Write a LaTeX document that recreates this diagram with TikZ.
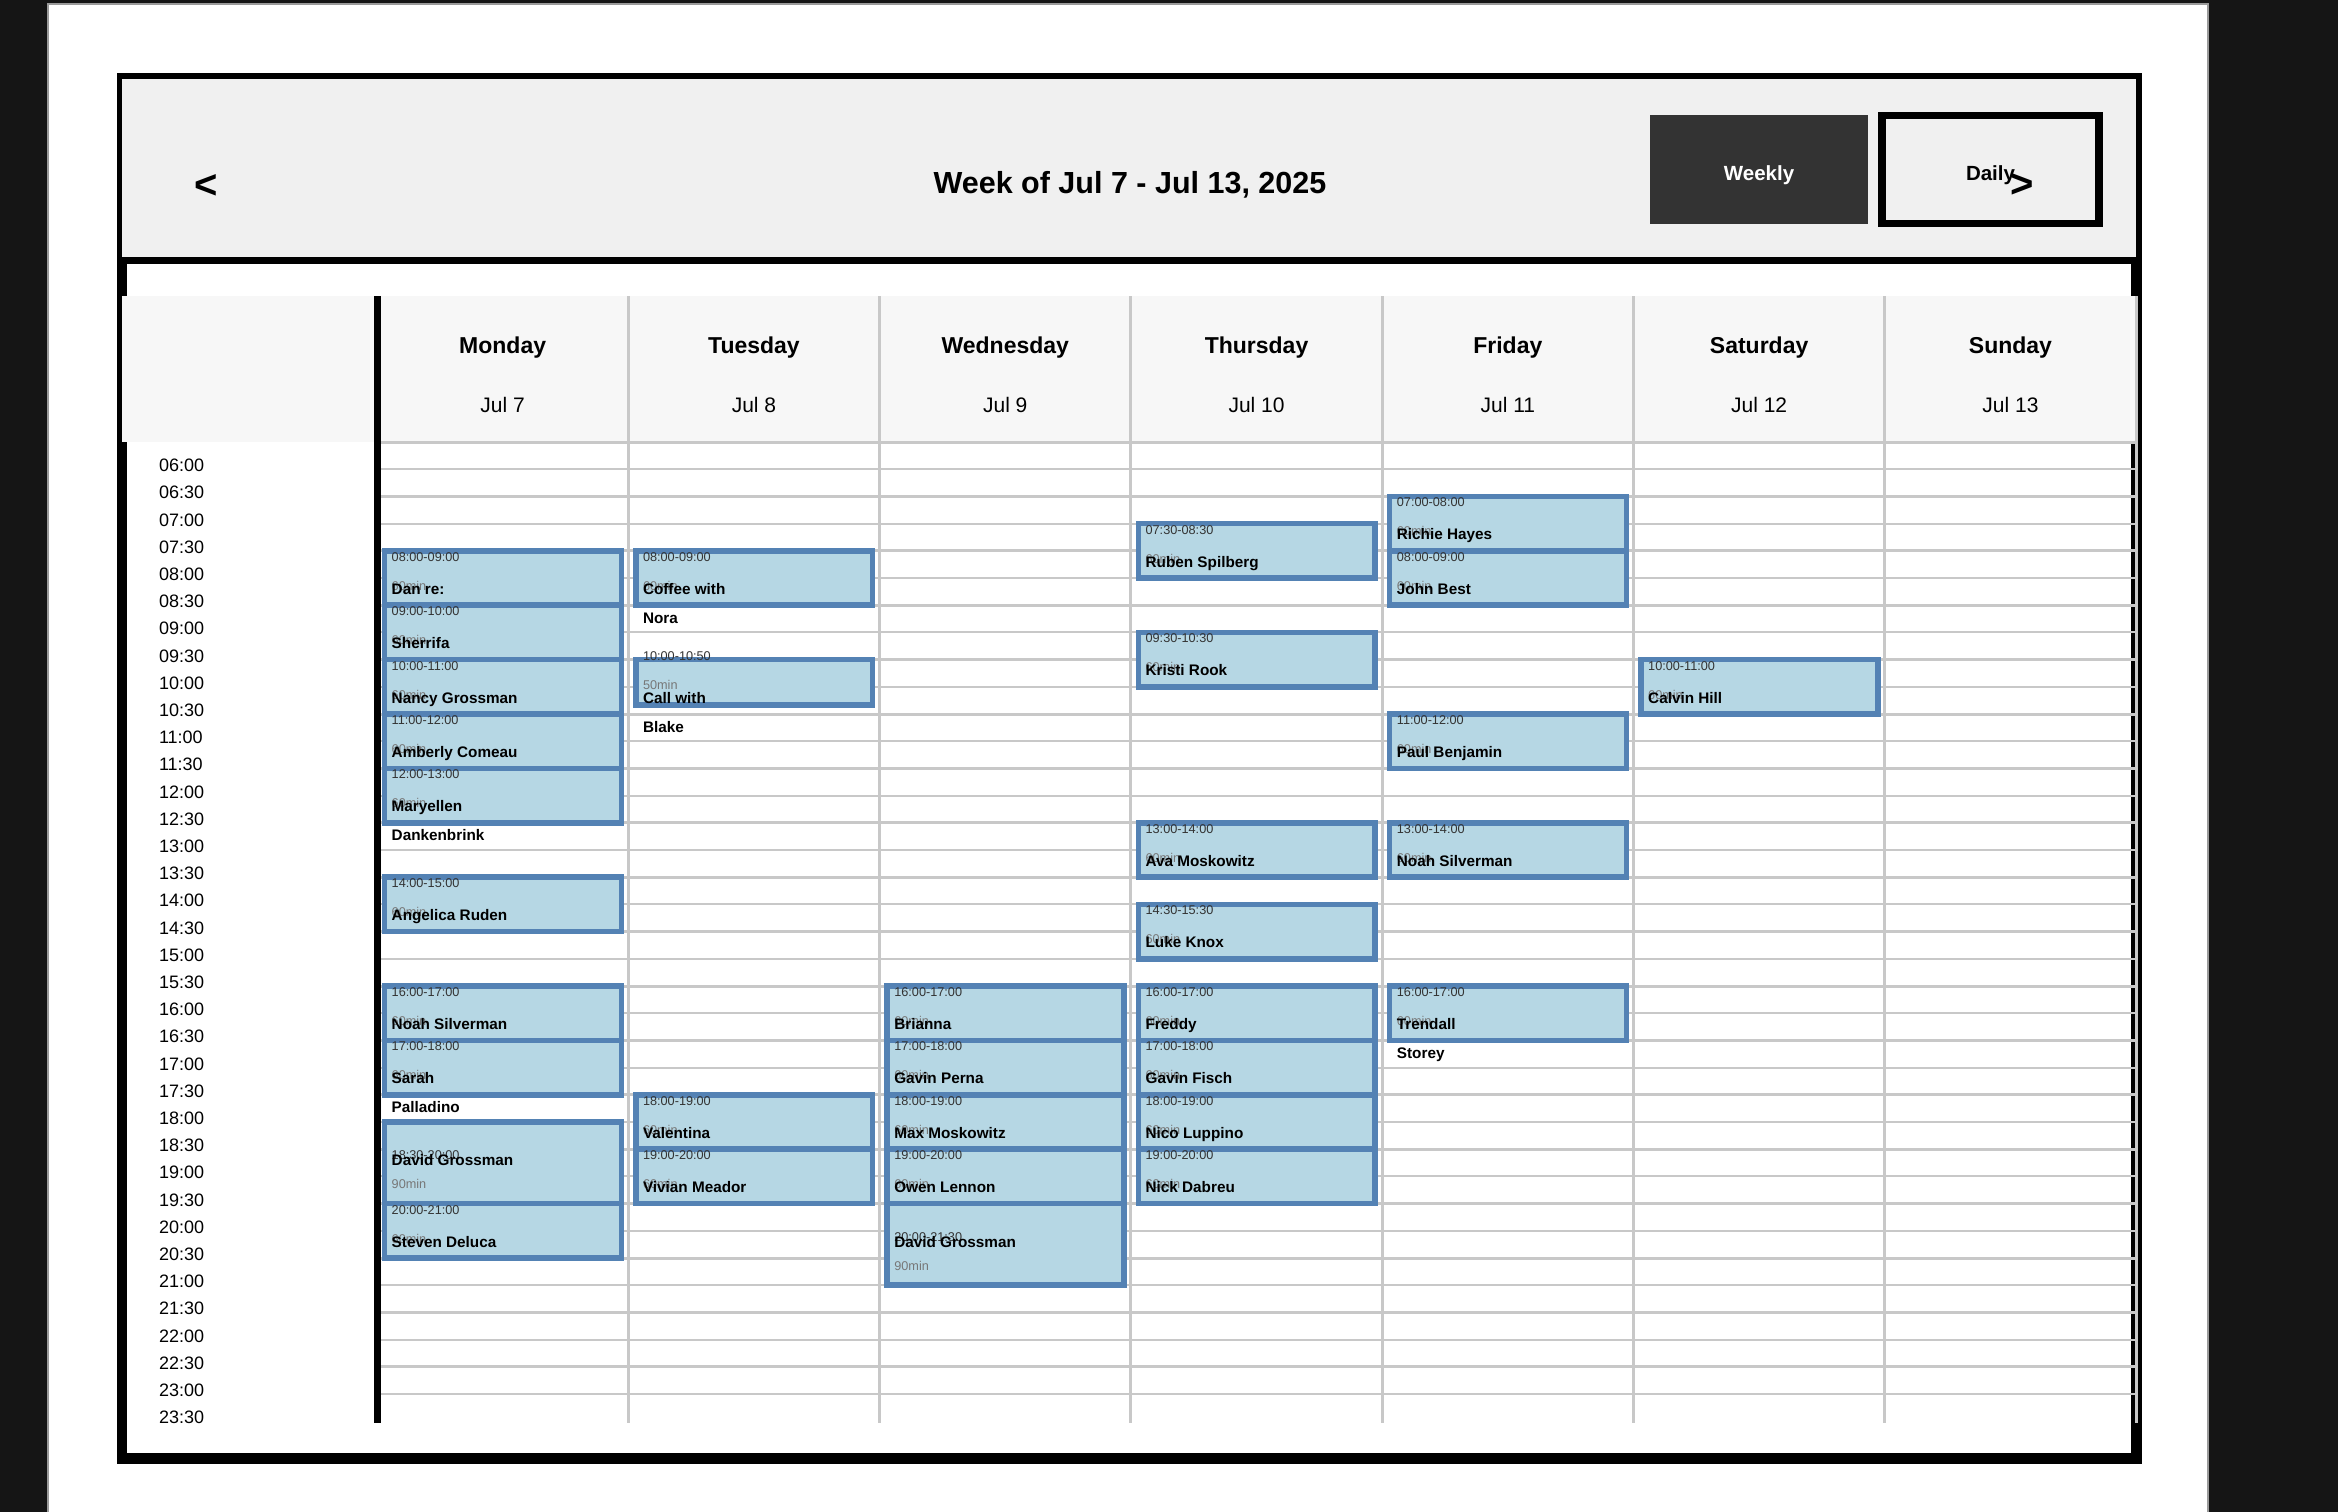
\documentclass[tikz,border=0pt]{standalone}
\usepackage{fontspec}
\setmainfont{Liberation Sans}
\definecolor{pagebg}{HTML}{151515}
\definecolor{pageedge}{HTML}{9A9A9A}
\definecolor{hdrbg}{HTML}{F0F0F0}
\definecolor{daybg}{HTML}{F7F7F7}
\definecolor{gridc}{HTML}{C8C8C8}
\definecolor{btndark}{HTML}{333333}
\definecolor{evfill}{HTML}{B6D7E4}
\definecolor{evborder}{HTML}{5482B4}
\definecolor{evtimec}{HTML}{333333}
\definecolor{evdurc}{HTML}{777777}
\newcounter{evc}
\tikzset{
  txt/.style={inner sep=0pt, outer sep=0pt},
  evbox/.style={draw=evborder, fill=evfill, line width=5.5pt},
  evtime/.style={txt, anchor=base west, text=evtimec, font=\fontsize{12.7}{15}\selectfont},
  evdur/.style={txt, anchor=base west, text=evdurc, font=\fontsize{12.7}{15}\selectfont},
  evname/.style={txt, anchor=base west, text=black, font=\bfseries\fontsize{15.3}{18}\selectfont},
  dayname/.style={txt, anchor=base, font=\bfseries\fontsize{23}{27}\selectfont},
  daydate/.style={txt, anchor=base, font=\fontsize{21}{25}\selectfont},
  timelbl/.style={txt, anchor=base west, font=\fontsize{18}{21}\selectfont},
  hgrid/.style={draw=gridc},
  vgrid/.style={draw=gridc, line width=3pt},
}
% #1 column, #2 start hour, #3 end hour, #4 time text, #5 name line 1, #6 name line 2, #7 duration
\newcommand\calev[7]{%
  \stepcounter{evc}%
  \pgfmathsetmacro\calX{377+251.3*#1}%
  \pgfmathsetmacro\calS{442+(#2-6)*54.4}%
  \pgfmathsetmacro\calE{442+(#3-6)*54.4}%
  \draw[evbox] (\calX+7.5,\calS) rectangle (\calX+244.3,\calE);
  \node[evtime] (evt\arabic{evc}) at (\calX+14.7,\calE-44) {#4};
  \node[evdur] (evd\arabic{evc}) at (\calX+14.7,\calE-15) {#7};
  \node[evname] (evn\arabic{evc}) at (\calX+14.7,\calS+43.5) {#5};
  \if\relax\detokenize{#6}\relax\else
    \node[evname] (evm\arabic{evc}) at (\calX+14.7,\calS+72.5) {#6};
  \fi
}
\begin{document}
\begin{tikzpicture}[x=1pt,y=-1pt]
\useasboundingbox (0,0) rectangle (2338,1512);
% page
\fill[pagebg] (0,0) rectangle (2338,1512);
\filldraw[fill=white, draw=pageedge, line width=1.5pt] (48,4) rectangle (2208,1514);
% outer frame
\fill[black] (117,73) rectangle (2142,1464);
\fill[hdrbg] (122,79) rectangle (2136,257);
\fill[white] (127,264) rectangle (2131,1453);
% header contents
\node[txt, anchor=base, font=\bfseries\fontsize{40}{44}\selectfont] (prev) at (206,198.5) {<};
\node[txt, anchor=base, font=\bfseries\fontsize{30.5}{34}\selectfont] (title) at (1130,193.3) {Week of Jul 7 - Jul 13, 2025};
\fill[btndark] (1650,115) rectangle (1868,224);
\node[txt, anchor=base, text=white, font=\bfseries\fontsize{20.5}{24}\selectfont] (weekly) at (1759,180.4) {Weekly};
\filldraw[fill=hdrbg, draw=black, line width=7.7pt] (1881.85,115.55) rectangle (2099.15,223.45);
\node[txt, anchor=base, font=\bfseries\fontsize{20.5}{24}\selectfont] (daily) at (1990.5,180.2) {Daily};
\node[txt, anchor=base, font=\bfseries\fontsize{40}{44}\selectfont] (next) at (2022,197.5) {>};
% day header row
\fill[daybg] (122,296) rectangle (2136,442);
% horizontal grid lines
\foreach \k in {0,...,35} {
  \pgfmathsetmacro\gy{442+27.2*\k}
  \ifodd\k\relax
    \draw[hgrid, line width=2pt] (381,\gy) -- (2137,\gy);
  \else
    \draw[hgrid, line width=3pt] (381,\gy) -- (2137,\gy);
  \fi
}
% vertical grid lines
\foreach \j in {1,...,7} {
  \pgfmathsetmacro\gx{377+251.3*\j}
  \draw[vgrid] (\gx,296) -- (\gx,1423);
}
\draw[black, line width=7pt] (377.5,296) -- (377.5,1423);
% day names and dates
\foreach \c/\dn/\dd in {0/Monday/Jul 7, 1/Tuesday/Jul 8, 2/Wednesday/Jul 9, 3/Thursday/Jul 10, 4/Friday/Jul 11, 5/Saturday/Jul 12, 6/Sunday/Jul 13} {
  \pgfmathsetmacro\dx{377+251.3*(\c+0.5)}
  \node[dayname] (day\c) at (\dx,353) {\dn};
  \node[daydate] (date\c) at (\dx,412.6) {\dd};
}
% time labels
\foreach \k in {0,...,35} {
  \pgfmathtruncatemacro\hh{6+floor(\k/2)}
  \pgfmathsetmacro\ty{471.7+27.2*\k}
  \node[timelbl] (tl\k) at (159,\ty) {\ifnum\hh<10\relax 0\fi\hh:\ifodd\k\relax 30\else 00\fi};
}
% Monday
\calev{0}{8}{9}{08:00-09:00}{Dan re:}{}{60min}
\calev{0}{9}{10}{09:00-10:00}{Sherrifa}{}{60min}
\calev{0}{10}{11}{10:00-11:00}{Nancy Grossman}{}{60min}
\calev{0}{11}{12}{11:00-12:00}{Amberly Comeau}{}{60min}
\calev{0}{12}{13}{12:00-13:00}{Maryellen}{Dankenbrink}{60min}
\calev{0}{14}{15}{14:00-15:00}{Angelica Ruden}{}{60min}
\calev{0}{16}{17}{16:00-17:00}{Noah Silverman}{}{60min}
\calev{0}{17}{18}{17:00-18:00}{Sarah}{Palladino}{60min}
\calev{0}{18.5}{20}{18:30-20:00}{David Grossman}{}{90min}
\calev{0}{20}{21}{20:00-21:00}{Steven Deluca}{}{60min}
% Tuesday
\calev{1}{8}{9}{08:00-09:00}{Coffee with}{Nora}{60min}
\calev{1}{10}{10.83333}{10:00-10:50}{Call with}{Blake}{50min}
\calev{1}{18}{19}{18:00-19:00}{Valentina}{}{60min}
\calev{1}{19}{20}{19:00-20:00}{Vivian Meador}{}{60min}
% Wednesday
\calev{2}{16}{17}{16:00-17:00}{Brianna}{}{60min}
\calev{2}{17}{18}{17:00-18:00}{Gavin Perna}{}{60min}
\calev{2}{18}{19}{18:00-19:00}{Max Moskowitz}{}{60min}
\calev{2}{19}{20}{19:00-20:00}{Owen Lennon}{}{60min}
\calev{2}{20}{21.5}{20:00-21:30}{David Grossman}{}{90min}
% Thursday
\calev{3}{7.5}{8.5}{07:30-08:30}{Ruben Spilberg}{}{60min}
\calev{3}{9.5}{10.5}{09:30-10:30}{Kristi Rook}{}{60min}
\calev{3}{13}{14}{13:00-14:00}{Ava Moskowitz}{}{60min}
\calev{3}{14.5}{15.5}{14:30-15:30}{Luke Knox}{}{60min}
\calev{3}{16}{17}{16:00-17:00}{Freddy}{}{60min}
\calev{3}{17}{18}{17:00-18:00}{Gavin Fisch}{}{60min}
\calev{3}{18}{19}{18:00-19:00}{Nico Luppino}{}{60min}
\calev{3}{19}{20}{19:00-20:00}{Nick Dabreu}{}{60min}
% Friday
\calev{4}{7}{8}{07:00-08:00}{Richie Hayes}{}{60min}
\calev{4}{8}{9}{08:00-09:00}{John Best}{}{60min}
\calev{4}{11}{12}{11:00-12:00}{Paul Benjamin}{}{60min}
\calev{4}{13}{14}{13:00-14:00}{Noah Silverman}{}{60min}
\calev{4}{16}{17}{16:00-17:00}{Trendall}{Storey}{60min}
% Saturday
\calev{5}{10}{11}{10:00-11:00}{Calvin Hill}{}{60min}
\end{tikzpicture}
\end{document}
